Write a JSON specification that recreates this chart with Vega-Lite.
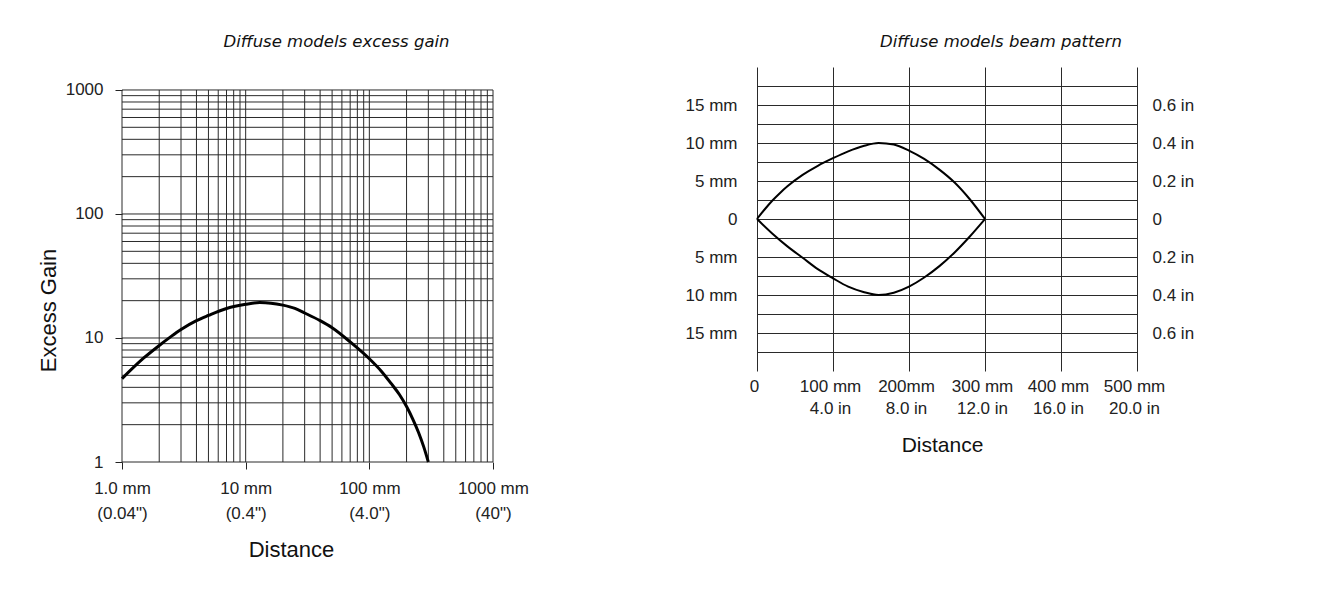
{
  "$schema": "https://vega.github.io/schema/vega-lite/v6.json",
  "background": "white",
  "padding": {"left": 37, "top": 33, "right": 5, "bottom": 5},
  "spacing": 156,
  "config": {
    "view": {"stroke": null},
    "axis": {"labelFont": "Liberation Sans", "titleFont": "Liberation Sans", "labelColor": "#222", "titleColor": "#111", "titleFontWeight": "normal", "labelFlush": false, "labelOverlap": false}
  },
  "datasets": {
    "grid": [
      {"v": 1}, {"v": 2}, {"v": 3}, {"v": 4}, {"v": 5}, {"v": 6}, {"v": 7}, {"v": 8}, {"v": 9},
      {"v": 10}, {"v": 20}, {"v": 30}, {"v": 40}, {"v": 50}, {"v": 60}, {"v": 70}, {"v": 80}, {"v": 90},
      {"v": 100}, {"v": 200}, {"v": 300}, {"v": 400}, {"v": 500}, {"v": 600}, {"v": 700}, {"v": 800}, {"v": 900},
      {"v": 1000}
    ],
    "gain": [
      {"d": 1, "g": 4.7}, {"d": 1.5, "g": 6.9}, {"d": 2, "g": 8.7}, {"d": 2.5, "g": 10.3}, {"d": 3, "g": 11.7}, {"d": 4, "g": 13.8},
      {"d": 5, "g": 15.2}, {"d": 7, "g": 17.3}, {"d": 10, "g": 18.7}, {"d": 13, "g": 19.3}, {"d": 16, "g": 19.1}, {"d": 20, "g": 18.4},
      {"d": 25, "g": 17.3}, {"d": 30, "g": 15.9}, {"d": 40, "g": 13.8}, {"d": 50, "g": 12.1}, {"d": 70, "g": 9.3}, {"d": 100, "g": 6.8},
      {"d": 125, "g": 5.4}, {"d": 150, "g": 4.3}, {"d": 175, "g": 3.5}, {"d": 200, "g": 2.8}, {"d": 225, "g": 2.21}, {"d": 250, "g": 1.73},
      {"d": 275, "g": 1.33}, {"d": 300, "g": 1.0}
    ],
    "beam": [
      {"side": "upper", "d": 0, "w": 0}, {"side": "upper", "d": 10, "w": 1.25}, {"side": "upper", "d": 20, "w": 2.4},
      {"side": "upper", "d": 30, "w": 3.4}, {"side": "upper", "d": 40, "w": 4.3}, {"side": "upper", "d": 60, "w": 5.8},
      {"side": "upper", "d": 80, "w": 7.0}, {"side": "upper", "d": 100, "w": 8.0}, {"side": "upper", "d": 120, "w": 8.9},
      {"side": "upper", "d": 140, "w": 9.6}, {"side": "upper", "d": 160, "w": 10.0}, {"side": "upper", "d": 180, "w": 9.8},
      {"side": "upper", "d": 200, "w": 9.0}, {"side": "upper", "d": 220, "w": 7.9}, {"side": "upper", "d": 240, "w": 6.5},
      {"side": "upper", "d": 260, "w": 4.8}, {"side": "upper", "d": 280, "w": 2.6}, {"side": "upper", "d": 300, "w": 0},
      {"side": "lower", "d": 0, "w": 0}, {"side": "lower", "d": 20, "w": -1.9}, {"side": "lower", "d": 40, "w": -3.6},
      {"side": "lower", "d": 60, "w": -5.1}, {"side": "lower", "d": 80, "w": -6.6}, {"side": "lower", "d": 100, "w": -7.8},
      {"side": "lower", "d": 120, "w": -8.9}, {"side": "lower", "d": 140, "w": -9.6}, {"side": "lower", "d": 160, "w": -10.0},
      {"side": "lower", "d": 180, "w": -9.7}, {"side": "lower", "d": 200, "w": -8.9}, {"side": "lower", "d": 220, "w": -7.7},
      {"side": "lower", "d": 240, "w": -6.2}, {"side": "lower", "d": 260, "w": -4.4}, {"side": "lower", "d": 280, "w": -2.3},
      {"side": "lower", "d": 300, "w": 0}
    ]
  },
  "hconcat": [
    {
      "width": 371,
      "height": 395,
      "title": {"text": "Diffuse models excess gain", "font": "DejaVu Sans", "fontStyle": "italic", "fontWeight": "normal", "fontSize": 16.5, "color": "#111", "anchor": "middle", "frame": "group", "dx": 29, "baseline": "alphabetic", "offset": 4},
      "layer": [
        {
          "data": {"name": "grid"},
          "mark": {"type": "rule", "color": "#2a2a2a", "strokeWidth": 1},
          "encoding": {
            "x": {"field": "v", "type": "quantitative", "scale": {"type": "log", "domain": [1, 1000], "nice": false},
              "axis": {"values": [1, 10, 100, 1000], "title": "Distance", "grid": false, "domain": false, "ticks": true, "tickSize": 7, "tickColor": "#222",
                "labelExpr": "datum.value == 1 ? ['1.0 mm', '(0.04\")'] : datum.value == 10 ? ['10 mm', '(0.4\")'] : datum.value == 100 ? ['100 mm', '(4.0\")'] : ['1000 mm', '(40\")']",
                "labelLineHeight": 25, "labelPadding": 11, "labelFontSize": 17,
                "titleFontSize": 22, "titleX": 169, "titleY": 94, "titleBaseline": "alphabetic", "titleAlign": "center"}},
            "y": {"datum": 1, "type": "quantitative", "scale": {"type": "log", "domain": [1, 1532], "nice": false}},
            "y2": {"datum": 1000}
          }
        },
        {
          "data": {"name": "grid"},
          "mark": {"type": "rule", "color": "#2a2a2a", "strokeWidth": 1},
          "encoding": {
            "y": {"field": "v", "type": "quantitative", "scale": {"type": "log", "domain": [1, 1532], "nice": false},
              "axis": {"values": [1, 10, 100, 1000], "title": "Excess Gain", "grid": false, "domain": false, "ticks": true, "tickSize": 7, "tickColor": "#222",
                "labelExpr": "'' + datum.value", "labelPadding": 12, "labelFontSize": 17,
                "titleFontSize": 22, "titleAngle": 270, "titleX": -67, "titleY": 243, "titleBaseline": "alphabetic", "titleAlign": "center"}},
            "x": {"datum": 1, "type": "quantitative", "scale": {"type": "log", "domain": [1, 1000], "nice": false}},
            "x2": {"datum": 1000}
          }
        },
        {
          "data": {"name": "gain"},
          "mark": {"type": "line", "color": "#000", "strokeWidth": 3, "interpolate": "monotone"},
          "encoding": {
            "x": {"field": "d", "type": "quantitative", "scale": {"type": "log", "domain": [1, 1000], "nice": false}},
            "y": {"field": "g", "type": "quantitative", "scale": {"type": "log", "domain": [1, 1532], "nice": false}}
          }
        }
      ]
    },
    {
      "width": 380,
      "height": 304,
      "title": {"text": "Diffuse models beam pattern", "font": "DejaVu Sans", "fontStyle": "italic", "fontWeight": "normal", "fontSize": 16.5, "color": "#111", "anchor": "middle", "frame": "group", "dx": 54, "baseline": "alphabetic", "offset": 4},
      "data": {"name": "beam"},
      "resolve": {"axis": {"y": "independent"}},
      "layer": [
        {
          "mark": {"type": "line", "color": "#000", "strokeWidth": 2, "interpolate": "monotone"},
          "encoding": {
            "x": {"field": "d", "type": "quantitative", "scale": {"domain": [0, 500], "nice": false},
              "axis": {"values": [0, 100, 200, 300, 400, 500], "title": "Distance", "grid": true, "gridColor": "#2a2a2a", "gridWidth": 1, "gridOpacity": 1, "domain": false, "ticks": false, "tickSize": 0,
                "labelExpr": "datum.value == 0 ? '0' : datum.value == 100 ? ['100 mm', '4.0 in'] : datum.value == 200 ? ['200mm', '8.0 in'] : datum.value == 300 ? ['300 mm', '12.0 in'] : datum.value == 400 ? ['400 mm', '16.0 in'] : ['500 mm', '20.0 in']",
                "labelLineHeight": 22.6, "labelPadding": 7, "labelOffset": -3, "labelFontSize": 17,
                "titleFontSize": 21, "titleX": 185, "titleY": 80, "titleBaseline": "alphabetic", "titleAlign": "center"}},
            "y": {"field": "w", "type": "quantitative", "scale": {"domain": [-20, 20], "nice": false},
              "axis": {"orient": "left", "values": [-17.5, -15, -12.5, -10, -7.5, -5, -2.5, 0, 2.5, 5, 7.5, 10, 12.5, 15, 17.5], "title": null, "grid": true, "gridColor": "#2a2a2a", "gridWidth": 1, "gridOpacity": 1, "domain": false, "ticks": false, "tickSize": 0,
                "labelExpr": "abs(datum.value) % 5 == 0 ? (datum.value == 0 ? '0' : abs(datum.value) + ' mm') : ''",
                "labelPadding": 20, "labelFontSize": 17}},
            "detail": {"field": "side"}
          }
        },
        {
          "mark": {"type": "line", "strokeOpacity": 0, "interpolate": "monotone"},
          "encoding": {
            "x": {"field": "d", "type": "quantitative", "scale": {"domain": [0, 500], "nice": false}},
            "y": {"field": "w", "type": "quantitative", "scale": {"domain": [-20, 20], "nice": false},
              "axis": {"orient": "right", "values": [-15, -10, -5, 0, 5, 10, 15], "title": null, "grid": false, "domain": false, "ticks": false, "tickSize": 0,
                "labelExpr": "datum.value == 0 ? '0' : abs(datum.value) == 5 ? '0.2 in' : abs(datum.value) == 10 ? '0.4 in' : '0.6 in'",
                "labelPadding": 15, "labelFontSize": 17}},
            "detail": {"field": "side"}
          }
        }
      ]
    }
  ]
}
